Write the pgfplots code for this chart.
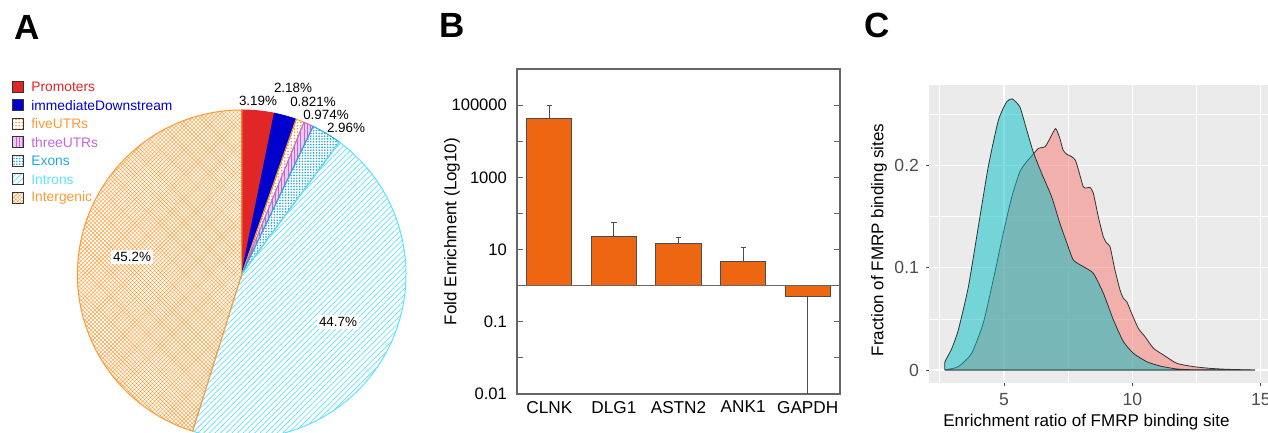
\documentclass[border=0pt]{standalone}
\usepackage{fontspec}
\setmainfont{Liberation Sans}
\usepackage{pgfplots}
\pgfplotsset{compat=1.18}
\usetikzlibrary{patterns.meta}

\definecolor{cPromo}{HTML}{E02626}
\definecolor{cDown}{HTML}{0000CC}
\definecolor{cFive}{HTML}{FF9933}
\definecolor{cThree}{HTML}{C466D9}
\definecolor{cExon}{HTML}{22A8DD}
\definecolor{cIntron}{HTML}{5EE2FF}
\definecolor{cInter}{HTML}{FF9933}
\definecolor{barOrange}{HTML}{EE6611}
\definecolor{ggBack}{HTML}{EBEBEB}
\definecolor{ggText}{HTML}{4D4D4D}
\definecolor{ggCyan}{HTML}{00BFC4}
\definecolor{ggRed}{HTML}{F8766D}

\tikzset{
  sPromo/.style={fill=cPromo, draw=cPromo},
  sDown/.style={fill=cDown, draw=cDown},
  sFive/.style={pattern={Dots[distance=1.6pt,radius=0.45pt]}, pattern color=cFive, draw=cFive},
  sThree/.style={preaction={fill=cThree!35}, pattern={Lines[angle=90,distance=1.6pt,line width=0.5pt]}, pattern color=cThree, draw=cThree},
  sExon/.style={pattern={Dots[distance=1.4pt,radius=0.45pt]}, pattern color=cExon, draw=cExon},
  sIntron/.style={pattern={Lines[angle=45,distance=2pt,line width=0.35pt]}, pattern color=cIntron, draw=cIntron},
  sInter/.style={pattern={Hatch[angle=45,distance=1.4pt,line width=0.2pt]}, pattern color=cInter, draw=cInter},
}

\begin{document}
% 1 unit = 1 pixel of the reference
\begin{tikzpicture}[x=0.5pt, y=0.5pt]
\coordinate (Bpos) at (517,39);
\coordinate (Cpos) at (929,50);

% plain TikZ parts use reference pixels with y pointing down
\begin{scope}[shift={(0,433)}, yscale=-1]

% ---------------- A: genomic distribution pie
\begin{scope}[shift={(241.7,274.3)}]
  \def\cum{0}
  \foreach \p/\sty in {3.19/sPromo, 2.18/sDown, 0.821/sFive, 0.974/sThree,
                       2.96/sExon, 44.7/sIntron, 45.2/sInter}{
    \pgfmathsetmacro\angA{-90+3.6*\cum}
    \pgfmathsetmacro\angB{-90+3.6*(\cum+\p)}
    \path[style/.expanded=\sty, line width=0.5pt]
      (0,0) -- (\angA:164.3) arc[start angle=\angA, end angle=\angB, radius=164.3] -- cycle;
    \pgfmathsetmacro\newcum{\cum+\p}
    \global\let\cum\newcum
  }
\end{scope}

\foreach \name/\sty/\col [count=\i from 0] in {Promoters/sPromo/cPromo,
    immediateDownstream/sDown/cDown, fiveUTRs/sFive/cFive, threeUTRs/sThree/cThree,
    Exons/sExon/cExon, Introns/sIntron/cIntron, Intergenic/sInter/cInter}{
  \path[style/.expanded=\sty, draw=black!80, line width=0.5pt]
    (12.5,81.5+18.5*\i) rectangle ++(11,11);
  \node[anchor=west, text=\col, font=\fontsize{6.9}{8}\selectfont, inner sep=0pt]
    at (31,87+18.5*\i) {\name};
}

\begin{scope}[every node/.style={font=\fontsize{6.7}{8}\selectfont, inner sep=1pt}]
  \node at (258,101) {3.19\%};
  \node at (293,88) {2.18\%};
  \node at (313,102) {0.821\%};
  \node at (326,115) {0.974\%};
  \node at (346,128) {2.96\%};
  \node[fill=white] at (132,257) {45.2\%};
  \node[fill=white] at (338,322) {44.7\%};
\end{scope}

% ---------------- panel letters
\begin{scope}[every node/.style={font=\fontsize{17.5}{20}\selectfont\bfseries, inner sep=0pt}]
  \node at (27,27.5) {A};
  \node at (452.5,25.7) {B};
  \node at (877,25) {C};
\end{scope}
\end{scope}

% ---------------- B: fold enrichment (log10 units)
\begin{axis}[
  at={(Bpos)}, anchor=south west, scale only axis,
  width=161.5pt, height=162.5pt,
  xmin=-0.5, xmax=4.5, ymin=-3, ymax=6,
  xtick={0,1,2,3,4}, xticklabels={CLNK,DLG1,ASTN2,ANK1,GAPDH},
  ytick={-3,-2,...,5}, yticklabels={0.01,,0.1,,10,,1000,,100000},
  x tick style={draw=none},
  y tick style={black!60, line width=0.6pt},
  tick align=inside, major tick length=2.8pt,
  axis line style={black!60, line width=0.6pt},
  xticklabel style={font=\fontsize{8.6}{10}\selectfont},
  yticklabel style={font=\fontsize{8.3}{10}\selectfont, xshift=-1.5pt},
  ylabel={Fold Enrichment (Log10)},
  ylabel style={at={(axis description cs:-0.2012,0.5)}, anchor=center,
    font=\fontsize{8.5}{10}\selectfont},
]
\addplot[ybar, bar width=0.7, bar shift=0pt, fill=barOrange, draw=black!70, line width=0.5pt,
  error bars/.cd, y dir=plus, y explicit,
  error bar style={black!70, line width=0.5pt},
  error mark options={rotate=90, black!70, mark size=1.3pt}]
  coordinates {(0,4.62) +- (0,0.38) (1,1.36) +- (0,0.39) (2,1.18) +- (0,0.17) (3,0.67) +- (0,0.38)};
\addplot[ybar, bar width=0.7, bar shift=0pt, fill=barOrange, draw=black!70, line width=0.5pt,
  error bars/.cd, y dir=minus, y explicit, error mark=none,
  error bar style={black!70, line width=0.5pt}]
  coordinates {(4,-0.30) +- (0,3.2)};
\addplot[black!60, line width=0.6pt] coordinates {(-0.5,0) (4.5,0)};
\end{axis}

% ---------------- C: density of enrichment ratios
\begin{axis}[
  at={(Cpos)}, anchor=south west, scale only axis,
  width=169.5pt, height=149pt,
  xmin=2.08, xmax=15.28, ymin=-0.0127, ymax=0.2786,
  axis background/.style={fill=ggBack},
  axis line style={draw=none},
  xtick={5,10,15}, xticklabels={5,10,15},
  ytick={0,0.1,0.2}, yticklabels={0,0.1,0.2},
  minor xtick={2.5,7.5,12.5}, minor ytick={0.05,0.15,0.25},
  grid=both, major grid style={white, line width=0.6pt},
  minor grid style={white, line width=0.3pt},
  tick pos=left, tick align=outside, major tick length=1.5pt, minor tick length=0pt,
  tick style={black!70, line width=0.5pt},
  ticklabel style={text=ggText, font=\fontsize{8.8}{10}\selectfont},
  xlabel={Enrichment ratio of FMRP binding site},
  ylabel={Fraction of FMRP binding sites},
  xlabel style={at={(axis description cs:0.4646,-0.1309)}, anchor=center,
    font=\fontsize{8.5}{10}\selectfont},
  ylabel style={at={(axis description cs:-0.1475,0.48)}, anchor=center,
    font=\fontsize{8.5}{10}\selectfont},
]
\addplot[draw=black!80, line width=0.4pt, fill=ggRed, fill opacity=0.5, smooth, tension=0.35]
  coordinates {(2.70,0) (3.22,0.0033) (3.74,0.0163) (4.19,0.0456) (4.58,0.088)
  (4.97,0.1336) (5.30,0.169) (5.62,0.194) (5.88,0.2036) (6.14,0.211) (6.34,0.2166)
  (6.60,0.2183) (6.79,0.2264) (7.01,0.236) (7.18,0.226) (7.30,0.215) (7.44,0.211)
  (7.64,0.2085) (7.78,0.205) (7.90,0.1955) (8.09,0.179) (8.22,0.178) (8.35,0.1785)
  (8.48,0.1727) (8.67,0.150) (8.87,0.130) (9.00,0.124) (9.13,0.1205) (9.32,0.0978)
  (9.52,0.078) (9.65,0.070) (9.78,0.0668) (9.97,0.0554) (10.23,0.0407) (10.49,0.0326)
  (10.82,0.0212) (11.21,0.0147) (11.73,0.0065) (12.38,0.0033) (13.03,0.0016)
  (13.68,0.0007) (14.78,0)} \closedcycle;
\addplot[draw=black!80, line width=0.4pt, fill=ggCyan, fill opacity=0.5, smooth, tension=0.35]
  coordinates {(2.70,0) (2.70,0.008) (2.95,0.02) (3.22,0.039) (3.61,0.081) (4.00,0.140)
  (4.39,0.199) (4.78,0.244) (5.10,0.262) (5.32,0.265) (5.62,0.257) (5.88,0.235)
  (6.14,0.213) (6.47,0.192) (6.86,0.169) (7.18,0.143) (7.45,0.124) (7.70,0.1075)
  (8.09,0.101) (8.48,0.0945) (8.87,0.075) (9.26,0.049) (9.65,0.0277) (10.04,0.0163)
  (10.56,0.0081) (11.08,0.0039) (11.73,0.001) (12.5,0.0002) (14.78,0)} \closedcycle;
\end{axis}

\pgfresetboundingbox
\useasboundingbox (0,0) rectangle (1268,433);
\end{tikzpicture}
\end{document}
